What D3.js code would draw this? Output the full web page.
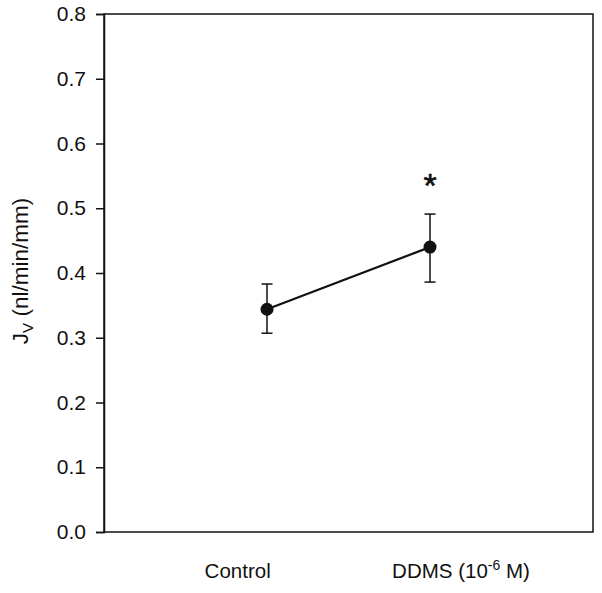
<!DOCTYPE html>
<html>
<head>
<meta charset="utf-8">
<script src="https://cdn.jsdelivr.net/npm/d3@7"></script>
<style>
  html, body { margin: 0; padding: 0; background: #fff; }
  svg { display: block; font-family: Arial, "Liberation Sans", Helvetica, sans-serif; }
</style>
</head>
<body>
<svg id="chart" width="602" height="593"></svg>
<script>
// ---- data ----
const categories = ["Control", "DDMS"];
const means = [0.344, 0.440];
const errUpper = [0.383, 0.491];
const errLower = [0.307, 0.386];
const significant = [false, true];
const yTicks = [0.0, 0.1, 0.2, 0.3, 0.4, 0.5, 0.6, 0.7, 0.8];

// ---- layout ----
const W = 602, H = 593;
const m = { left: 104, right: 9, top: 14, bottom: 61 };
const svg = d3.select("#chart");

const x = d3.scaleLinear().domain([0, 3]).range([m.left, W - m.right]);
const y = d3.scaleLinear().domain([0, 0.8]).range([H - m.bottom, m.top]);
const xPos = categories.map((c, i) => i + 1);
const labelPos = [0.82, 2.19];

// frame
svg.append("rect")
  .attr("x", m.left).attr("y", m.top)
  .attr("width", W - m.right - m.left).attr("height", H - m.bottom - m.top)
  .attr("fill", "none").attr("stroke", "#111").attr("stroke-width", 1.5);

// y axis
const yAxis = d3.axisLeft(y).tickValues(yTicks).tickFormat(d3.format(".1f"))
  .tickSize(8).tickPadding(10);
const gy = svg.append("g").attr("transform", `translate(${m.left},0)`).call(yAxis);
gy.select(".domain").attr("stroke", "#111").attr("stroke-width", 1.5);
gy.selectAll(".tick line").attr("stroke", "#111").attr("stroke-width", 1.5);
gy.selectAll(".tick text").attr("font-size", 21).attr("fill", "#111")
  .attr("font-family", "Arial, 'Liberation Sans', sans-serif");

// x labels
const xl = svg.append("g").attr("font-size", 20.5).attr("fill", "#111").attr("text-anchor", "middle");
xl.append("text").attr("x", x(labelPos[0])).attr("y", 578).text("Control");
const t2 = xl.append("text").attr("x", x(labelPos[1])).attr("y", 578);
t2.append("tspan").text("DDMS (10");
t2.append("tspan").attr("dy", -8).attr("font-size", 14).text("-6");
t2.append("tspan").attr("dy", 8).text(" M)");

// y title
const yt = svg.append("text")
  .attr("transform", `translate(28,${(m.top + H - m.bottom) / 2 - 2}) rotate(-90)`)
  .attr("text-anchor", "middle").attr("font-size", 22.5).attr("fill", "#111");
yt.append("tspan").text("J");
yt.append("tspan").attr("dy", 5).attr("font-size", 15).text("V");
yt.append("tspan").attr("dy", -5).text(" (nl/min/mm)");

// line
const line = d3.line().x((d, i) => x(xPos[i])).y(d => y(d));
svg.append("path").datum(means).attr("d", line)
  .attr("fill", "none").attr("stroke", "#111").attr("stroke-width", 2.2);

// error bars
const capW = 5.5;
const eb = svg.append("g").attr("stroke", "#111").attr("stroke-width", 1.5);
means.forEach((v, i) => {
  const cx = x(xPos[i]);
  eb.append("line").attr("x1", cx).attr("x2", cx).attr("y1", y(errUpper[i])).attr("y2", y(errLower[i]));
  eb.append("line").attr("x1", cx - capW).attr("x2", cx + capW).attr("y1", y(errUpper[i])).attr("y2", y(errUpper[i]));
  eb.append("line").attr("x1", cx - capW).attr("x2", cx + capW).attr("y1", y(errLower[i])).attr("y2", y(errLower[i]));
});

// points
svg.append("g").selectAll("circle").data(means).join("circle")
  .attr("cx", (d, i) => x(xPos[i])).attr("cy", d => y(d)).attr("r", 6.5).attr("fill", "#111");

// asterisk
const sigIdx = significant.map((s, i) => s ? i : -1).filter(i => i >= 0);
svg.append("g").selectAll("text").data(sigIdx).join("text")
  .attr("x", i => x(xPos[i])).attr("y", i => y(errUpper[i]) - 17)
  .attr("text-anchor", "middle").attr("font-size", 34).attr("fill", "#111")
  .attr("stroke", "#111").attr("stroke-width", 0.6)
  .text("*");
</script>
</body>
</html>
